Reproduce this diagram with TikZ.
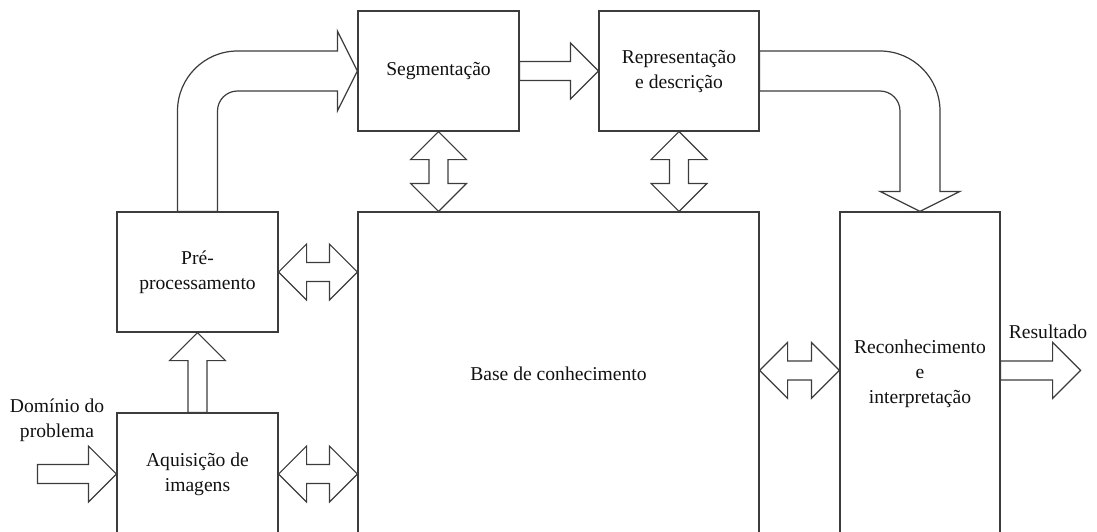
\documentclass[tikz,border=0pt]{standalone}
\usepackage{fontspec}
\setmainfont{Liberation Serif}
\usetikzlibrary{calc}
\definecolor{cline}{HTML}{3C3C3C}
\definecolor{cink}{HTML}{111111}
% sizes of the straight block arrows
\def\shafthalf{4.75pt}
\def\headhalf{14pt}
\def\headlen{14pt}
% one block arrow, tail #1, tip #2
\newcommand{\blockarrow}[2]{%
  \coordinate (neck) at ($(#2)!\headlen!(#1)$);
  \draw[arrowline] ($(#1)!\shafthalf!90:(#2)$) -- ($(neck)!\shafthalf!-90:(#1)$)
    -- ($(neck)!\headhalf!-90:(#1)$) -- (#2) -- ($(neck)!\headhalf!90:(#1)$)
    -- ($(neck)!\shafthalf!90:(#1)$) -- ($(#1)!\shafthalf!-90:(#2)$) -- cycle;}
% a block arrow with a head at both ends, tips #1 and #2
\newcommand{\twinarrow}[2]{%
  \coordinate (necka) at ($(#1)!\headlen!(#2)$);
  \coordinate (neckb) at ($(#2)!\headlen!(#1)$);
  \draw[arrowline] (#1) -- ($(necka)!\headhalf!90:(#2)$) -- ($(necka)!\shafthalf!90:(#2)$)
    -- ($(neckb)!\shafthalf!-90:(#1)$) -- ($(neckb)!\headhalf!-90:(#1)$) -- (#2)
    -- ($(neckb)!\headhalf!90:(#1)$) -- ($(neckb)!\shafthalf!90:(#1)$)
    -- ($(necka)!\shafthalf!-90:(#2)$) -- ($(necka)!\headhalf!-90:(#2)$) -- cycle;}

\begin{document}
\begin{tikzpicture}[x=0.5pt, y=-0.5pt,
  font=\fontsize{9.8pt}{12.5pt}\selectfont,
  box/.style={draw=cline, line width=0.6pt, align=center, inner sep=0pt, text=cink},
  arrowline/.style={draw=cline, line width=0.6pt, fill=white, line join=miter},
  label/.style={align=center, inner sep=0pt, text=cink}]
\clip (0,0) rectangle (1097,531);
%% ------------------------------------------------------------------ boxes
\node[box, minimum width=80.5pt, minimum height=60pt] (seg) at (438.5,71) {Segmenta\c{c}\~ao};
\node[box, minimum width=80pt, minimum height=60pt] (rep) at (679,71) {Representa\c{c}\~ao\\e descri\c{c}\~ao};
\node[box, minimum width=80.5pt, minimum height=60pt] (pre) at (197.5,272) {Pr\'e-\\processamento};
\node[box, minimum width=80.5pt, minimum height=61pt] (aq) at (197.5,474) {Aquisi\c{c}\~ao de\\imagens};
\node[box, minimum width=200.5pt, minimum height=162pt] (base) at (558.5,374) {Base de conhecimento};
\node[box, minimum width=80pt, minimum height=162pt] (reco) at (920,374) {Reconhecimento\\e\\interpreta\c{c}\~ao};
% the free texts
\node[label] (dom) at (57,420) {Dom\'inio do\\problema};
\node[label] (res) at (1048,332) {Resultado};
%% ------------------------------------------------------------------ straight arrows
\coordinate (domtail) at ($(aq.west)+(-79,0)$);
\coordinate (recomid) at ($(reco.north)+(0,159)$);
\coordinate (restip) at ($(recomid -| reco.east)+(80,0)$);
\coordinate (segbase) at (seg.south |- base.north);
\coordinate (repbase) at (rep.south |- base.north);
\coordinate (prebase) at (pre.east -| base.west);
\coordinate (aqbase) at (aq.east -| base.west);
\coordinate (recobase) at (recomid -| base.east);
\coordinate (recoleft) at (recomid -| reco.west);
\coordinate (recoright) at (recomid -| reco.east);
\blockarrow{domtail}{aq.west}
\blockarrow{aq.north}{pre.south}
\blockarrow{seg.east}{rep.west}
\blockarrow{recoright}{restip}
\twinarrow{seg.south}{segbase}
\twinarrow{rep.south}{repbase}
\twinarrow{pre.east}{prebase}
\twinarrow{aq.east}{aqbase}
\twinarrow{recobase}{recoleft}
%% ------------------------------------------------------------------ bent arrows
% from the top of Pre- to the left of Segmentacao
\coordinate (bendA) at ($(pre.north |- seg.west)+(40,40)$);
\draw[arrowline] ($(pre.north)+(-20,0)$) -- ($(bendA)+(-60,0)$)
  arc[start angle=180, end angle=90, radius=30pt] -- ($(seg.west)+(-20,-20)$)
  -- ($(seg.west)+(-20,-40)$) -- (seg.west) -- ($(seg.west)+(-20,40)$)
  -- ($(seg.west)+(-20,20)$) -- ($(bendA)+(0,-20)$)
  arc[start angle=90, end angle=180, radius=10pt] -- ($(pre.north)+(20,0)$) -- cycle;
% from the right of Representacao down to Reconhecimento
\coordinate (bendB) at ($(rep.east -| reco.north)+(-40,40)$);
\draw[arrowline] ($(rep.east)+(0,-20)$) -- ($(bendB)+(0,-60)$)
  arc[start angle=90, end angle=0, radius=30pt] -- ($(reco.north)+(20,-20)$)
  -- ($(reco.north)+(40,-20)$) -- (reco.north) -- ($(reco.north)+(-40,-20)$)
  -- ($(reco.north)+(-20,-20)$) -- ($(bendB)+(20,0)$)
  arc[start angle=0, end angle=90, radius=10pt] -- ($(rep.east)+(0,20)$) -- cycle;
\end{tikzpicture}
\end{document}
